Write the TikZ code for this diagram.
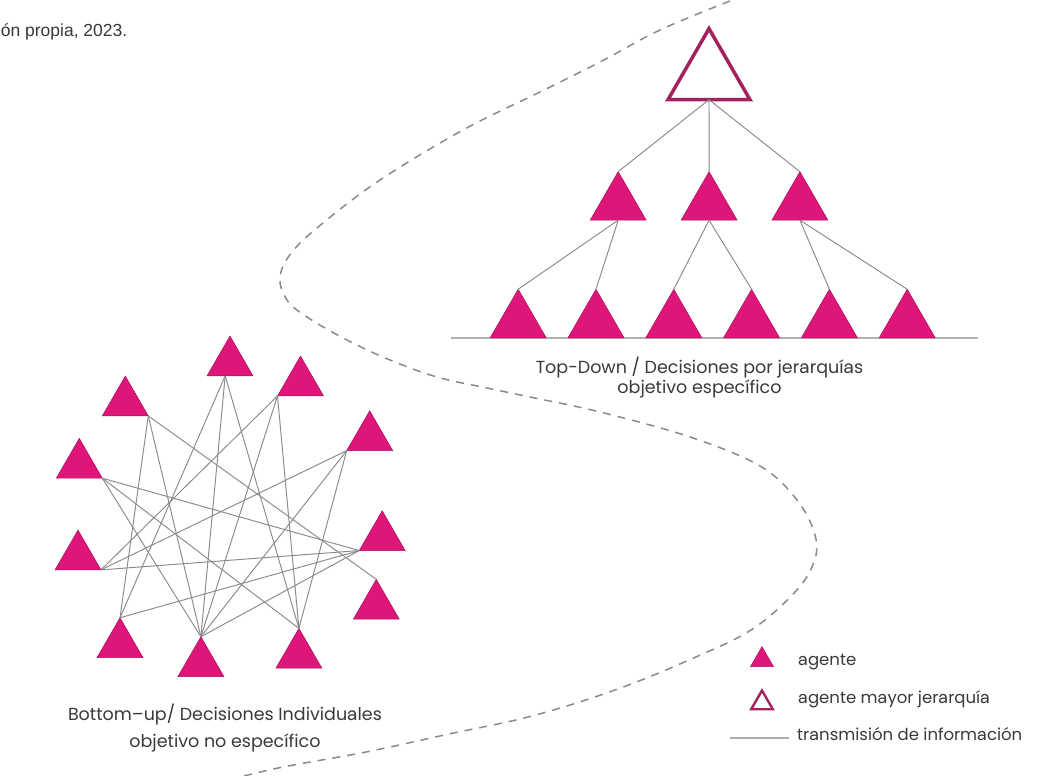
\documentclass[tikz,border=0pt]{standalone}
\usepackage{fontspec}
\setmainfont{Poppins}[RawFeature={+ss01;+ss02}]
\newfontfamily\notefont{Liberation Sans}
\usetikzlibrary{shapes.geometric}
\definecolor{agentfill}{HTML}{DE1679}
\definecolor{agentedge}{HTML}{A8105C}
\definecolor{headedge}{HTML}{A3225E}
\definecolor{linkgray}{HTML}{8A8A8A}
\definecolor{dashgray}{HTML}{8A8A8A}
\definecolor{textgray}{HTML}{3A3A3A}
\begin{document}
\begin{tikzpicture}[x=1pt,y=-1pt,
  tri/.style={regular polygon, regular polygon sides=3, inner sep=0pt, outer sep=0pt, minimum size=#1},
  agent/.style={tri=#1, fill=agentfill, draw=agentedge, line width=0.5pt},
  head/.style={tri=#1, fill=white, draw=headedge, line width=3.5pt},
  link/.style={draw=linkgray, line width=0.95pt},
  ground/.style={draw=black!30, line width=1.4pt},
  border/.style={draw=dashgray, line width=1.5pt, dash pattern=on 8pt off 7pt},
  caption/.style={font=\fontsize{17.5}{20}\selectfont, text=textgray, align=center, inner sep=0pt},
  legendtext/.style={font=\fontsize{16.5}{18}\selectfont, text=textgray, anchor=west, inner sep=0pt}]

% page
\path[use as bounding box, fill=white] (0,0) rectangle (1041,776);

% source note
\node[anchor=base east, font=\notefont\fontsize{17.5}{20}\selectfont, text=black!78, inner sep=0pt] (src) at (127.5,37) {ón propia, 2023.};

% boundary between the two models
\draw[border] plot[smooth, tension=0.6] coordinates {
  (730,1) (660,30) (600,62) (540,92) (463,130) (380,180) (323,223) (292,252)
  (280,277) (287,300) (307,317) (347,340) (390,360) (437,377) (487,388)
  (530,397) (600,412) (690,437) (760,466) (797,500) (815,535) (814,562)
  (795,592) (751,630) (689,660) (615,690) (532,716) (449,734) (366,752)
  (283,767) (236,778)};

% ---------- top-down hierarchy ----------
\coordinate (g1) at (450.7,338);
\coordinate (g2) at (977.5,338);
\draw[ground] (g1) -- (g2);

\node[head=94.7] (top) at (709,76) {};
\node[agent=64.7] (m1) at (618.2,204) {};
\node[agent=64.7] (m2) at (709.1,204) {};
\node[agent=64.7] (m3) at (799.9,204) {};
\foreach \i/\x in {1/518.2,2/596.0,3/673.8,4/751.6,5/829.4,6/907.2}
  \node[agent=64.7] (b\i) at (\x,321.6) {};

\draw[link] (top.south) -- (m1.corner 1);
\draw[link] (top.south) -- (m2.corner 1);
\draw[link] (top.south) -- (m3.corner 1);
\draw[link] (m1.south) -- (b1.corner 1);
\draw[link] (m1.south) -- (b2.corner 1);
\draw[link] (m2.south) -- (b3.corner 1);
\draw[link] (m2.south) -- (b4.corner 1);
\draw[link] (m3.south) -- (b5.corner 1);
\draw[link] (m3.south) -- (b6.corner 1);

\node[caption] (tdlabel) at (699.5,378) {Top-Down / Decisiones por jerarquías\\objetivo específico};

% ---------- bottom-up network ----------
\node[agent=53.1] (A) at (230,362.6) {};
\node[agent=53.1] (B) at (300.5,382.6) {};
\node[agent=53.1] (C) at (125.3,402.6) {};
\node[agent=53.1] (D) at (369.7,437.3) {};
\node[agent=53.1] (E) at (79.3,464.9) {};
\node[agent=53.1] (F) at (382.2,537.3) {};
\node[agent=53.1] (G) at (78,556.6) {};
\node[agent=53.1] (H) at (376.3,605.9) {};
\node[agent=53.1] (I) at (120,644.3) {};
\node[agent=53.1] (J) at (200.9,663.3) {};
\node[agent=53.1] (K) at (298.9,654.9) {};

\draw[link] (A.-110) -- (I.corner 1);
\draw[link] (A.-110) -- (J.corner 1);
\draw[link] (A.-110) -- (K.corner 1);
\draw[link] (B.corner 2) -- (G.corner 3);
\draw[link] (B.corner 2) -- (J.corner 1);
\draw[link] (B.corner 2) -- (K.corner 1);
\draw[link] (C.corner 3) -- (I.corner 1);
\draw[link] (C.corner 3) -- (J.corner 1);
\draw[link] (C.corner 3) -- (H.corner 1);
\draw[link] (D.corner 2) -- (G.corner 3);
\draw[link] (D.corner 2) -- (J.corner 1);
\draw[link] (D.corner 2) -- (K.corner 1);
\draw[link] (E.corner 3) -- (F.corner 2);
\draw[link] (E.corner 3) -- (J.corner 1);
\draw[link] (E.corner 3) -- (K.corner 1);
\draw[link] (G.corner 3) -- (F.corner 2);
\draw[link] (I.corner 1) -- (F.corner 2);
\draw[link] (J.corner 1) -- (F.corner 2);

\node[caption, font=\fontsize{17.5}{26.7}\selectfont] (bulabel) at (225,728.3) {Bottom–up/ Decisiones Individuales\\objetivo no específico};

% ---------- legend ----------
\node[agent=26.6] (lgagent) at (762,660) {};
\node[head=25, line width=2.4pt] (lghead) at (762,703) {};
\coordinate (lg1) at (730,738);
\coordinate (lg2) at (789,738);
\draw[draw=black!32, line width=2pt] (lg1) -- (lg2);
\node[legendtext] (lt1) at (798,662) {agente};
\node[legendtext] (lt2) at (798,699) {agente mayor jerarquía};
\node[legendtext] (lt3) at (797,734) {transmisión de información};
\end{tikzpicture}
\end{document}
